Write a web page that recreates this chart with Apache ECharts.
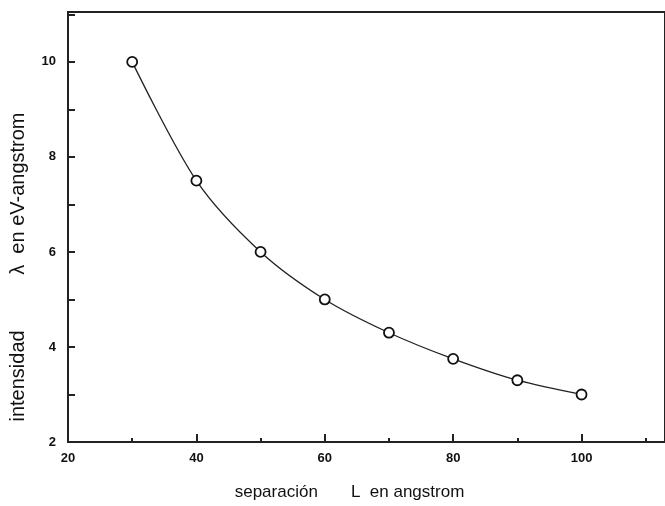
<!DOCTYPE html>
<html><head><meta charset="utf-8">
<script src="https://cdn.jsdelivr.net/npm/echarts@6/dist/echarts.min.js"></script>
<style>html,body{margin:0;padding:0;background:#fff}#c{width:665px;height:506px}</style>
</head><body><div id="c"></div>
<script>
const separacion = [30, 40, 50, 60, 70, 80, 90, 100];
const intensidad = [10.0, 7.5, 6.0, 5.0, 4.3, 3.75, 3.3, 3.0];
const xTicks = [20, 40, 60, 80, 100];
const yTicks = [2, 4, 6, 8, 10];
const xName = 'separación       L  en angstrom';
const yName = 'intensidad          λ  en eV-angstrom';

const font = '"Liberation Sans Narrow", "Liberation Sans", Arial, sans-serif';
const chart = echarts.init(document.getElementById('c'));
chart.setOption({
  animation: false,
  grid: { left: 66, top: 12, right: -6, bottom: 64, show: true, borderColor: '#222', borderWidth: 2, backgroundColor: 'transparent' },
  xAxis: {
    type: 'value', min: 20, max: 113, interval: 20,
    name: xName, nameLocation: 'middle', nameGap: 42,
    nameTextStyle: { fontFamily: font, fontSize: 17, color: '#111', padding: [0, 0, 0, -34] },
    axisLine: { show: true, onZero: false, lineStyle: { color: '#222', width: 2 } },
    axisTick: { show: true, inside: true, length: 8, lineStyle: { color: '#222', width: 2 } },
    minorTick: { show: true, splitNumber: 2, length: 4, lineStyle: { color: '#222', width: 2 } },
    splitLine: { show: false },
    minorSplitLine: { show: false },
    axisLabel: {
      fontFamily: font, fontSize: 13, fontWeight: 'bold', color: '#111', margin: 10,
      showMaxLabel: false,
      formatter: v => xTicks.includes(v) ? String(v) : ''
    }
  },
  yAxis: {
    type: 'value', min: 2, max: 11.05, interval: 1,
    name: yName, nameLocation: 'middle', nameGap: 40, nameRotate: 90,
    nameTextStyle: { fontFamily: font, fontSize: 20, color: '#111', padding: [0, 80, 0, 0] },
    axisLine: { show: true, onZero: false, lineStyle: { color: '#222', width: 2 } },
    axisTick: { show: true, inside: true, length: 7, lineStyle: { color: '#222', width: 2 } },
    splitLine: { show: false },
    axisLabel: {
      fontFamily: font, fontSize: 13, fontWeight: 'bold', color: '#111', margin: 12,
      showMaxLabel: false,
      formatter: v => yTicks.includes(v) ? String(v) : ''
    }
  },
  series: [{
    type: 'line',
    data: separacion.map((x, i) => [x, intensidad[i]]),
    smooth: 0.3,
    symbol: 'circle', symbolSize: 10,
    lineStyle: { color: '#222', width: 1.3 },
    itemStyle: { color: '#fff', borderColor: '#111', borderWidth: 1.8 }
  }]
});
</script></body></html>
